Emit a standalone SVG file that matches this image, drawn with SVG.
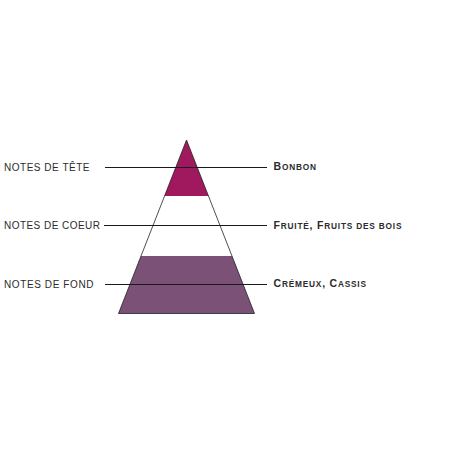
<svg xmlns="http://www.w3.org/2000/svg" width="452" height="452" viewBox="0 0 452 452">
<style>
.lbl{font-family:"Liberation Sans",Arial,sans-serif;font-size:10px;fill:#2b2b2b;letter-spacing:0.5px}
.note{font-family:"Liberation Sans",Arial,sans-serif;font-size:10.5px;font-weight:bold;fill:#2b2b2b}
.sc{font-size:8.3px}
.ln{stroke:#1a1a1a;stroke-width:1;fill:none}
</style>
<rect width="452" height="452" fill="#ffffff"/>
<g id="pyramid">
<polygon points="186.5,140 164.5,196 208.5,196" fill="#A0195F"/>
<polygon points="141,256 232,256 254.5,313.5 118.5,313.5" fill="#7B5177"/>
<polygon points="186.5,140 254.5,313.5 118.5,313.5" fill="none" stroke="#222" stroke-width="0.8"/>
</g>
<g id="connectors">
<line class="ln" x1="105" y1="167.5" x2="267" y2="167.5"/>
<line class="ln" x1="104" y1="225.5" x2="267" y2="225.5"/>
<line class="ln" x1="105" y1="284.5" x2="267" y2="284.5"/>
</g>
<g id="tete">
<text class="lbl" x="4" y="171" textLength="86" lengthAdjust="spacing">NOTES DE TÊTE</text>
<text class="note" x="273.5" y="170" textLength="42.5" lengthAdjust="spacing">B<tspan class="sc">ONBON</tspan></text>
</g>
<g id="coeur">
<text class="lbl" x="4" y="229" textLength="96.5" lengthAdjust="spacing">NOTES DE COEUR</text>
<text class="note" x="273.5" y="228.5" textLength="128" lengthAdjust="spacing">F<tspan class="sc">RUITÉ</tspan>, F<tspan class="sc">RUITS DES BOIS</tspan></text>
</g>
<g id="fond">
<text class="lbl" x="4" y="288" textLength="90" lengthAdjust="spacing">NOTES DE FOND</text>
<text class="note" x="273.5" y="287" textLength="92.5" lengthAdjust="spacing">C<tspan class="sc">RÉMEUX</tspan>, C<tspan class="sc">ASSIS</tspan></text>
</g>
</svg>
